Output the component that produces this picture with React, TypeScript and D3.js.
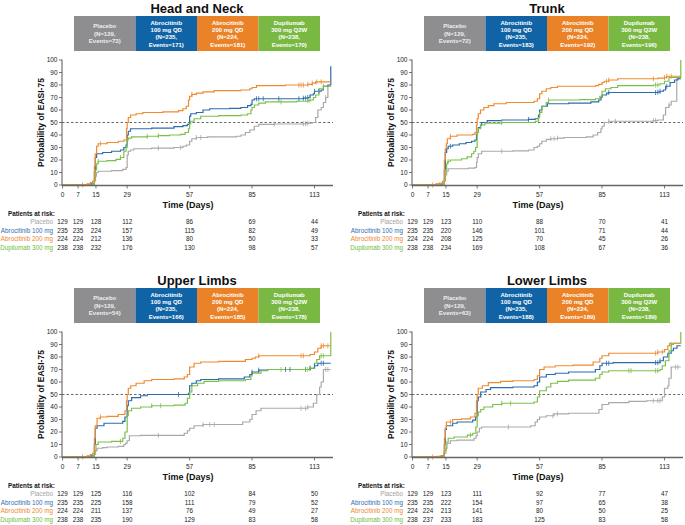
import React from "react";
import * as d3 from "d3";

type Pt = [number, number];

const END_DAY = 120.3;
const timeTicks = [0, 7, 15, 29, 57, 85, 113];
const probTicks = [0, 10, 20, 30, 40, 50, 60, 70, 80, 90, 100];
const panelTitles = ["Head and Neck", "Trunk", "Upper Limbs", "Lower Limbs"];
const groupLabels = ["Placebo", "Abrocitinib 100 mg", "Abrocitinib 200 mg", "Dupilumab 300 mg"];
const groupBoxLines = [["Placebo"], ["Abrocitinib", "100 mg QD"], ["Abrocitinib", "200 mg QD"], ["Dupilumab", "300 mg Q2W"]];
const groupN = [129, 235, 224, 238];
const lineColors = ["#a9a9a9", "#2b6cad", "#f08a2e", "#7cc04a"];
const boxColors = ["#8e8e90", "#1064a6", "#ea8328", "#79b943"];
const labelColors = ["#a3a3a3", "#2d6fb2", "#ee8934", "#6dbd3d"];

// Events per panel (Placebo, A100, A200, Dupi)
const eventsHN = [73, 171, 181, 170];
const eventsTR = [72, 183, 192, 196];
const eventsUL = [54, 166, 185, 178];
const eventsLL = [63, 188, 189, 189];

// Patients at risk per panel
const riskHN = [[129, 129, 128, 112, 86, 69, 44], [235, 235, 224, 157, 115, 82, 49], [224, 224, 212, 136, 80, 50, 33], [238, 238, 232, 176, 130, 98, 57]];
const riskTR = [[129, 129, 123, 110, 88, 70, 41], [235, 235, 220, 146, 101, 71, 44], [224, 224, 208, 125, 70, 45, 26], [238, 238, 234, 169, 108, 67, 36]];
const riskUL = [[129, 129, 125, 116, 102, 84, 50], [235, 235, 225, 158, 111, 79, 52], [224, 224, 211, 137, 76, 49, 27], [238, 238, 235, 190, 129, 83, 58]];
const riskLL = [[129, 129, 123, 111, 92, 77, 47], [235, 235, 222, 154, 97, 65, 38], [224, 224, 213, 141, 80, 50, 25], [238, 237, 233, 183, 125, 83, 58]];

// Head and Neck curves [day, probability %]
const hnPlacebo: Pt[] = [[0,0],[14.3,3],[14.8,7],[15.2,10],[16,11],[22,11.5],[27,12.5],[28.5,14],[29,24],[29.5,27],[30.5,28],[32,29],[40,29.5],[50,30],[54,31],[55.5,32],[57,35],[58,37],[60,38],[65,38.5],[78,39],[80,40],[82,42],[84,44],[86,47],[88,48.5],[95,48.8],[108,49],[110,49.5],[112,50],[113.5,54],[114.5,60],[116,62],[117,66],[118,70],[119,79]];
const hnA100: Pt[] = [[0,0],[13,1],[14.3,10],[14.7,22],[15.3,25],[18,26],[22,27],[26,28],[27.5,30],[28.5,32],[29,40],[29.5,43],[30.5,45],[40,45.5],[50,46.7],[54,47.5],[56,48.5],[57,55],[57.5,57],[60,58],[63,60],[66,61],[75,61.3],[80,62],[83,63.5],[84.5,64.5],[85,68],[86,69],[108,69.5],[110,70],[111,72],[112.5,73],[113,75],[116,76],[117,79],[119,80],[120.3,95]];
const hnA200: Pt[] = [[0,0],[11,1],[12.5,2],[13.5,3],[14.3,15],[14.7,25],[15.3,31],[16,33],[20,34],[25,35],[27.5,36],[28.7,45],[29,50],[29.5,54],[30.5,56],[33,57],[36,58],[45,58.5],[52,59.5],[54,61],[55.5,63],[56.5,68],[57,71],[58,72.5],[60,73.5],[63,74.5],[68,75.5],[80,76],[84,77],[85,78],[87,79.5],[100,80],[110,80.5],[112,81.5],[113.5,82.5]];
const hnDupi: Pt[] = [[0,0],[13.5,1],[14.3,5],[14.7,12],[15.3,17],[16,19],[20,19.5],[24,20.5],[26,22],[27.5,27],[28.5,30],[29,36],[29.5,37.5],[31,38.5],[38,39],[43,39.5],[48,40],[53,40.5],[55,42],[56.5,45],[57,49],[57.5,51],[59,53],[62,55],[70,55.5],[80,56],[83,57],[84.5,60],[85,62],[86,64],[88,65.5],[91,66.5],[105,67],[110,67.5],[111,68],[112.5,70],[113.5,72],[115,77],[117,79]];

// Trunk curves
const trPlacebo: Pt[] = [[0,0],[14.3,3],[14.8,8],[15.3,11],[16,13],[25,13.5],[28,14],[28.7,18],[29,22],[29.5,25],[31,27],[45,27.3],[52,28],[54.5,30],[56,31],[57,33],[58,35],[60,36.5],[62,37],[65,37.5],[68,38],[78,38.5],[81,40],[83,42],[84.5,45],[85,47],[86,50],[88,51],[108,51.5],[110,52],[112.5,56],[113.5,62],[115,64],[116,67],[118.5,85]];
const trA100: Pt[] = [[0,0],[13,1],[14.3,12],[14.7,26],[15.3,29],[16,31],[18,32],[21,33],[24,34],[26.5,35],[28,36],[28.7,40],[29,42],[29.5,46],[30.5,48],[31,50],[33.5,51.5],[40,52],[52,52.5],[55,53],[56.5,56],[57,60],[58,63],[60.5,65],[70,65.5],[80,66.5],[83.5,68],[84.5,70],[85,72],[87,73.5],[88,74],[110,74.3],[111,75],[112.5,76],[113.5,79],[115.5,82],[117.5,84],[119,85]];
const trA200: Pt[] = [[0,0],[10.5,1],[12,1.5],[13.5,3],[14.3,20],[14.7,29],[15.2,33],[15.6,37],[17,39],[20,40],[27,40.5],[28,42],[28.7,48],[29,53],[29.5,57],[30.5,60],[32,62],[34,63.5],[36.5,65],[42,66],[54.5,67],[56,69],[57,73],[58,75],[60,77],[62,78],[65,79],[82,79.5],[83.5,80.5],[85,82],[86,83],[88,84],[92,85],[110,85.5],[113,86],[114,87]];
const trDupi: Pt[] = [[0,0],[13.5,1],[14.3,5],[14.7,12],[15.3,17],[15.8,19],[17,20],[22,21],[24.5,22.5],[26.5,25],[27.5,27],[28.3,30],[29,42],[29.5,45],[30.6,48],[32.5,49.5],[40,50],[55,51],[56.5,54],[57,58],[58,63],[60,66],[61,68],[75,68.3],[82,69],[84,71],[85,75],[86.5,77],[89,78],[92,79.5],[108,80],[111,81],[113,83],[115,86],[120.3,100]];

// Upper Limbs curves
const ulPlacebo: Pt[] = [[0,0],[14.3,2],[14.8,5],[15.5,7],[18,7.5],[20,8],[25,8.5],[27.5,10],[28.3,11],[29,13],[30,17],[35,17.3],[54.6,19],[56,21],[57,23],[59,25],[63,26],[80.8,28],[84,30],[85,34],[86.8,37],[89,39],[110,40],[112.5,43],[114,50],[115.3,56],[116,60],[117,70]];
const ulA100: Pt[] = [[0,0],[13,1],[14.3,10],[14.7,23],[15.5,25],[18.6,27],[27,28.5],[28,32],[29,41],[29.5,45],[31,47.5],[35,49],[38,50],[56.5,51],[57,57],[58,59],[60,61],[62,62],[70,62.5],[81.5,64],[84,66],[85,68],[88,69.5],[92,70],[111,71],[113,73],[114.5,75]];
const ulA200: Pt[] = [[0,0],[11,1],[12.5,2],[13.5,3],[14.3,15],[14.7,25],[15.5,31],[17,32],[20,32.5],[25,34],[28,37],[28.7,45],[29,50],[29.5,55],[30.6,57],[33,59],[36.6,61],[40,62],[50,62.5],[54.6,64],[56,66],[57,72],[59,75],[62,76],[70,76.5],[82,78],[85,79],[86.5,80],[88,81],[111,82],[113,84],[114.5,87],[116,89]];
const ulDupi: Pt[] = [[0,0],[13.5,1],[14.3,5],[15,10],[16,12],[22,12.5],[27,15],[28,20],[29,33],[29.5,37],[31,39],[35,40],[40,41],[50,41.5],[55,43],[56,47],[57,52],[58,57],[60.6,59],[63.5,60.5],[70,61],[82,62],[84.5,65],[85,67],[89,69],[92,70],[111,71],[113,75],[114,78],[115.3,81],[120.3,100]];

// Lower Limbs curves
const llPlacebo: Pt[] = [[0,0],[14.3,3],[15,7],[15.5,11],[17,13],[20,13.5],[27.6,15],[28.5,17],[29,20],[30,23],[31,24],[53,25],[55,28],[56,30],[57,32],[60,33],[63.5,34.5],[70,35],[83.6,38],[85,42],[88,43.5],[97,44.5],[105,45],[112,48],[113,55],[114.5,57],[115,63],[116,72]];
const llA100: Pt[] = [[0,0],[13,1],[14.3,10],[14.7,22],[15.2,25],[18,27],[20,28],[27,29.5],[28.3,32],[29,45],[29.5,48],[30.6,52],[33,54],[35,55.5],[45,56],[54.5,57],[56,60],[57,64],[60,66],[64,67],[70,68],[82,70],[84,73],[85,75],[90,75.5],[111,77],[112.5,80],[114.5,83],[116,85],[117,87],[118.6,89]];
const llA200: Pt[] = [[0,0],[11,0.5],[12.5,1],[14,3],[14.3,15],[14.7,23],[15.2,28],[18,30],[22,30.5],[26,32],[28,35],[28.7,45],[29,50],[29.5,55],[31.3,57],[34,59.5],[39.5,60.5],[45,61],[54.5,62],[56,65],[57,70],[59,72],[64,73],[72,73.5],[81,76],[84,79],[85,81],[88,83],[110,84],[113,86],[114.5,89],[115.3,91]];
const llDupi: Pt[] = [[0,0],[13.5,1],[14.3,5],[15,12],[16,15],[18.6,16],[24.6,17.5],[27,19],[28.4,24],[29,33],[29.5,36],[30.6,38],[32,40],[36,42],[40,43],[54.5,44],[56,48],[57,53],[60,56],[62,59],[65,60.5],[70,61.5],[82,63],[84,66],[85,68],[88,69],[111,70],[112,73],[113.4,77],[115,85],[116,90],[117,91],[120.3,100]];

// Censoring marks (days)
const censHN = [[43, 53, 60, 62, 95, 108, 109, 110, 118], [87, 88, 90, 97, 106, 108, 109, 110, 113, 115], [9, 17, 58, 106, 107, 108, 110, 112, 114, 116], [16, 26, 38, 43, 98, 110, 111, 117]];
const censTR = [[40, 62, 63.5, 65, 88, 91, 108, 109, 115], [17, 52, 88, 109, 110, 111, 114], [9, 17, 87, 88, 108, 113, 114, 116], [16, 40, 61, 109, 110]];
const censUL = [[43, 63, 66, 68, 107, 109, 110, 118, 119], [52, 85, 88, 100, 102, 109, 111, 113, 116, 117], [9, 17, 88, 107, 108, 116, 117, 119], [26, 40, 44, 98, 109, 110, 111, 116, 117]];
const censLL = [[43, 63, 65, 108, 110, 111, 118, 119], [87, 88, 109, 110, 111], [9, 17, 109, 110, 112], [26, 40, 44, 97, 98, 109, 110, 116]];

const panels = [
  { ox: 0, oy: 0, title: panelTitles[0], curves: [hnPlacebo, hnA100, hnA200, hnDupi], cens: censHN, events: eventsHN, risk: riskHN },
  { ox: 350, oy: 0, title: panelTitles[1], curves: [trPlacebo, trA100, trA200, trDupi], cens: censTR, events: eventsTR, risk: riskTR },
  { ox: 0, oy: 272, title: panelTitles[2], curves: [ulPlacebo, ulA100, ulA200, ulDupi], cens: censUL, events: eventsUL, risk: riskUL },
  { ox: 350, oy: 272, title: panelTitles[3], curves: [llPlacebo, llA100, llA200, llDupi], cens: censLL, events: eventsLL, risk: riskLL },
];

const FONT = "'Liberation Sans', Arial, Helvetica, sans-serif";

function stepValue(pts: Pt[], day: number): number {
  let v = 0;
  for (const p of pts) { if (p[0] <= day) v = p[1]; else break; }
  return v;
}

function Panel({ p }: { p: typeof panels[number] }) {
  const x = d3.scaleLinear().domain([0, 113]).range([62.5, 314.5]);
  const y = d3.scaleLinear().domain([0, 100]).range([185, 60]);
  const line = d3.line<Pt>().x(d => x(d[0])).y(d => y(d[1])).curve(d3.curveStepAfter);
  const boxX = d3.scaleBand<number>().domain([0, 1, 2, 3]).range([74, 320]).padding(0);
  const riskY = [224, 232.5, 241, 249.5];
  const order = [0, 1, 3, 2];
  return (
    <g transform={`translate(${p.ox},${p.oy})`} fontFamily={FONT}>
      <text x={197} y={13} textAnchor="middle" fontWeight="bold" fontSize={13} fill="#111">{p.title}</text>
      {[0, 1, 2, 3].map(i => {
        const lines = [...groupBoxLines[i], `(N=${groupN[i]},`, `Events=${p.events[i]})`];
        const cy = 33.5;
        const sp = 7.3;
        const y0 = cy - ((lines.length - 1) * sp) / 2;
        return (
          <g key={i}>
            <rect x={boxX(i)} y={16} width={boxX.bandwidth()} height={35} fill={boxColors[i]} />
            {lines.map((t, k) => (
              <text key={k} x={(boxX(i) as number) + boxX.bandwidth() / 2} y={y0 + k * sp} dy="0.35em" textAnchor="middle" fontSize={6} fontWeight="bold" fill={i === 0 ? "#eeeeee" : "#ffffff"}>{t}</text>
            ))}
          </g>
        );
      })}
      {/* dashed 50% line */}
      <line x1={62} x2={333} y1={y(50)} y2={y(50)} stroke="#444" strokeWidth={0.8} strokeDasharray="2.5,2" />
      {/* curves */}
      {order.map(i => {
        const pts = p.curves[i].slice();
        const last = pts[pts.length - 1];
        if (last[0] < END_DAY) pts.push([END_DAY, last[1]]);
        return <path key={i} d={line(pts) || ""} fill="none" stroke={lineColors[i]} strokeWidth={1.2} />;
      })}
      {order.map(i => (
        <g key={"c" + i}>
          {p.cens[i].map((d, k) => {
            const v = stepValue(p.curves[i], d);
            return <line key={k} x1={x(d)} x2={x(d)} y1={y(v) - 2.5} y2={y(v) + 2.5} stroke={lineColors[i]} strokeWidth={0.8} />;
          })}
        </g>
      ))}
      {/* y axis */}
      <line x1={62} x2={62} y1={59.5} y2={185.5} stroke="#555" strokeWidth={1} />
      {probTicks.map(t => (
        <g key={t}>
          <line x1={59} x2={62} y1={y(t)} y2={y(t)} stroke="#555" strokeWidth={0.8} />
          <text x={57.5} y={y(t)} dy="0.35em" textAnchor="end" fontSize={6.5} fill="#222">{t}</text>
        </g>
      ))}
      <text transform={`translate(44,${(y(0) + y(100)) / 2}) rotate(-90)`} textAnchor="middle" fontSize={8.5} fontWeight="bold" fill="#111">Probability of EASI-75</text>
      {/* x axis */}
      <line x1={62} x2={333} y1={185.5} y2={185.5} stroke="#666" strokeWidth={1.3} />
      {timeTicks.map(t => (
        <g key={t}>
          <line x1={x(t)} x2={x(t)} y1={185.5} y2={188.5} stroke="#555" strokeWidth={0.8} />
          <text x={x(t)} y={196.5} textAnchor="middle" fontSize={6.5} fill="#222">{t}</text>
        </g>
      ))}
      <text x={188} y={207.5} textAnchor="middle" fontSize={9} fontWeight="bold" fill="#111">Time (Days)</text>
      {/* risk table */}
      <text x={8} y={215.5} fontSize={6.3} fontWeight="bold" fill="#111">Patients at risk:</text>
      {[0, 1, 2, 3].map(i => (
        <g key={"r" + i}>
          <text x={53} y={riskY[i]} textAnchor="end" fontSize={6.3} fill={labelColors[i]}>{groupLabels[i]}</text>
          {p.risk[i].map((v, k) => (
            <text key={k} x={x(timeTicks[k])} y={riskY[i]} textAnchor="middle" fontSize={6.3} fill="#222">{v}</text>
          ))}
        </g>
      ))}
    </g>
  );
}

export default function App() {
  return (
    <svg width={685} height={525} viewBox="0 0 685 525" style={{ position: "absolute", left: 0, top: 0, background: "#fff" }}>
      <rect width={685} height={525} fill="#fff" />
      {panels.map((p, i) => <Panel key={i} p={p} />)}
    </svg>
  );
}
